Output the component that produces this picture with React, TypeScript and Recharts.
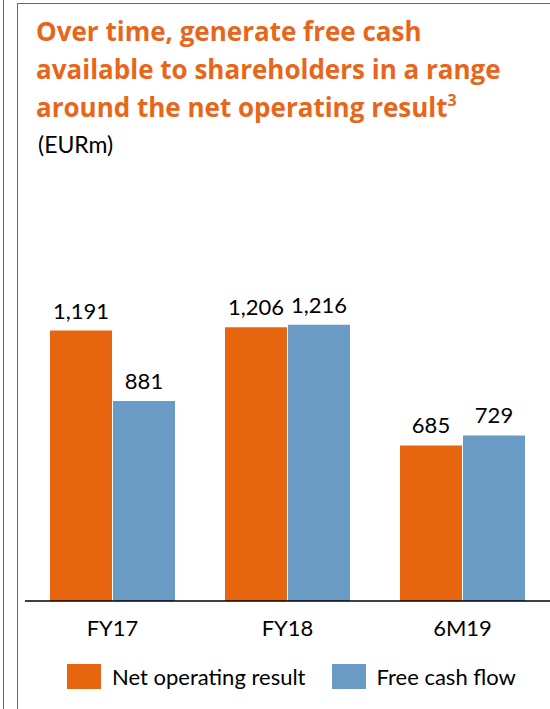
import { BarChart, Bar, XAxis, YAxis, LabelList } from 'recharts';

const categories = ['FY17', 'FY18', '6M19'];
const netOperatingResult = [1191, 1206, 685];
const freeCashFlow = [881, 1216, 729];

const seriesNames = ['Net operating result', 'Free cash flow'];
const seriesKeys = ['net', 'fcf'];
const seriesColors = ['#E8650F', '#6A9BC5'];

const titleLines = [
  'Over time, generate free cash',
  'available to shareholders in a range',
  'around the net operating result',
];

const chartData = categories.map((cat, i) => ({
  category: cat,
  net: netOperatingResult[i],
  fcf: freeCashFlow[i],
}));

const fmt = (v: any) => Number(v).toLocaleString('en-US');

const FONT = 'Lato, "Open Sans", sans-serif';
const TITLE_FONT = '"Open Sans", Lato, sans-serif';

export default function App() {
  return (
    <div style={{ position: 'absolute', left: 0, top: 0, width: 550, height: 709, background: '#fff', fontFamily: FONT, overflow: 'hidden' }}>
      {/* panel borders */}
      <div style={{ position: 'absolute', left: 3, top: 0, width: 1, height: 709, background: '#666' }} />
      <div style={{ position: 'absolute', left: 17, top: 3, width: 1, height: 706, background: '#666' }} />
      <div style={{ position: 'absolute', left: 17, top: 3, width: 533, height: 1, background: '#666' }} />

      <div style={{ position: 'absolute', left: 36, top: 12, color: '#E8661A', fontFamily: TITLE_FONT, fontWeight: 700, fontSize: 26, lineHeight: '38px', whiteSpace: 'nowrap' }}>
        {titleLines.map((line, i) => (
          <div key={i}>
            {line}
            {i === titleLines.length - 1 && <sup style={{ fontSize: 16, lineHeight: 0, verticalAlign: 11 }}>3</sup>}
          </div>
        ))}
      </div>
      <div style={{ position: 'absolute', left: 38, top: 131, color: '#000', fontSize: 23, lineHeight: '26px' }}>(EURm)</div>

      <div style={{ position: 'absolute', left: 0, top: 0 }}>
        <BarChart
          width={550}
          height={709}
          data={chartData}
          margin={{ top: 56, right: 0, left: 25, bottom: 68 }}
          barSize={62}
          barGap={1}
        >
          <XAxis
            dataKey="category"
            height={40}
            tickLine={false}
            tickMargin={13}
            axisLine={{ stroke: '#000', strokeWidth: 1.5 }}
            tick={{ fill: '#000', fontSize: 22, fontFamily: FONT }}
          />
          <YAxis hide domain={[0, 2400]} />
          {seriesKeys.map((key, i) => (
            <Bar key={key} dataKey={key} name={seriesNames[i]} fill={seriesColors[i]} isAnimationActive={false}>
              <LabelList
                dataKey={key}
                position="top"
                offset={12}
                formatter={fmt}
                style={{ fill: '#000', fontSize: 22, fontFamily: FONT }}
              />
            </Bar>
          ))}
        </BarChart>
      </div>

      {/* legend */}
      <div style={{ position: 'absolute', left: 67, top: 664, display: 'flex', alignItems: 'center', fontSize: 22, color: '#000', whiteSpace: 'nowrap' }}>
        {seriesNames.map((name, i) => (
          <div key={name} style={{ display: 'flex', alignItems: 'center', marginRight: 26 }}>
            <div style={{ width: 34, height: 25, background: seriesColors[i], marginRight: 11 }} />
            <span style={{ lineHeight: '25px' }}>{name}</span>
          </div>
        ))}
      </div>
    </div>
  );
}
